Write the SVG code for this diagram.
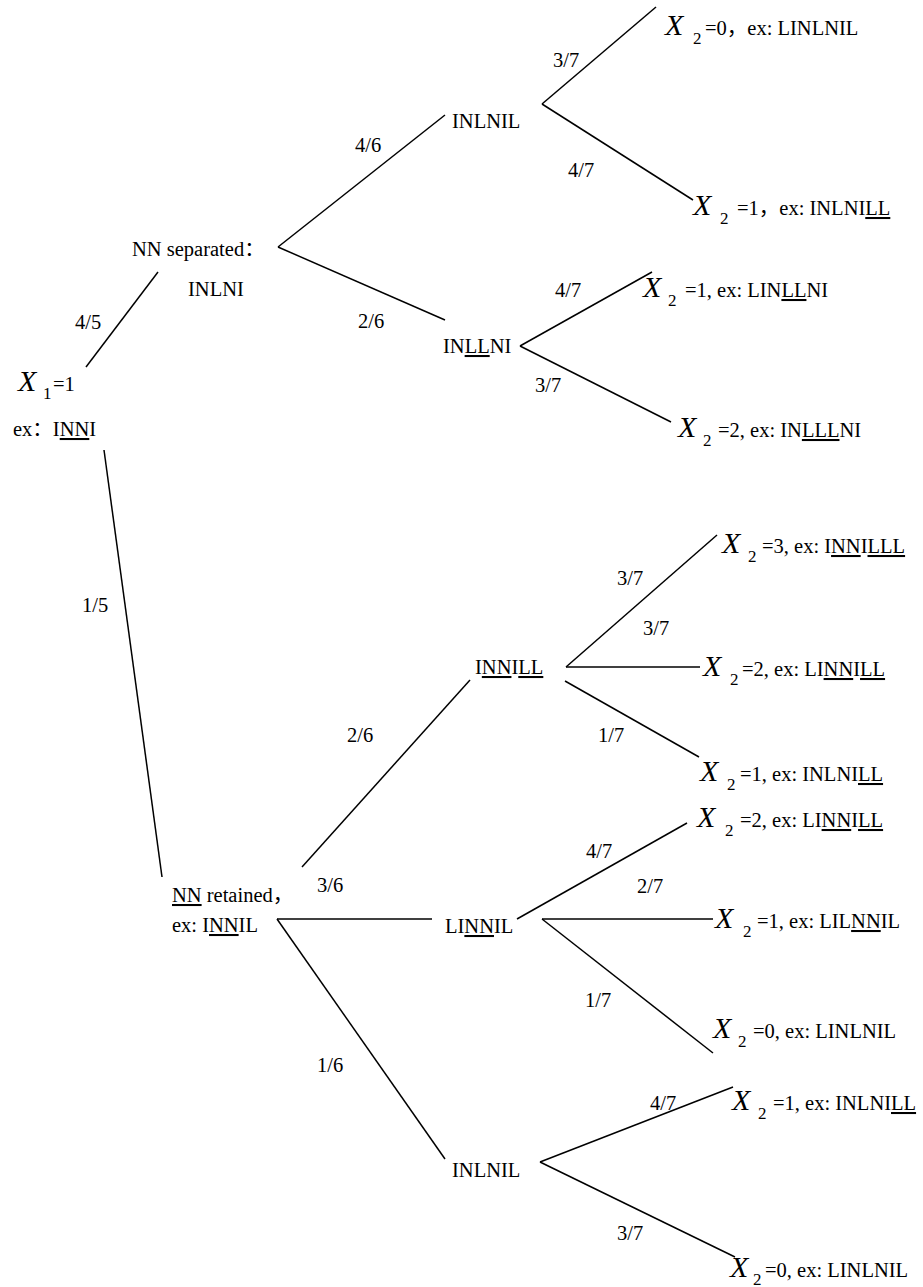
<svg xmlns="http://www.w3.org/2000/svg" width="923" height="1287" viewBox="0 0 923 1287">
<style>
text{font-family:"Liberation Serif","Noto Sans CJK SC",serif;fill:#000}
.t{font-size:20.5px}
.X{font-size:30px;font-style:italic}
.s{font-size:17px}
.u{text-decoration:underline}
#connectors line{stroke:#000;stroke-width:1.5;fill:none}
</style>
<rect width="923" height="1287" fill="#fff"/>
<g id="connectors">
<line x1="86" y1="367" x2="158" y2="272"/>
<line x1="104" y1="450" x2="162" y2="877"/>
<line x1="278" y1="247" x2="445" y2="115"/>
<line x1="278" y1="247" x2="445" y2="320"/>
<line x1="542" y1="104" x2="656" y2="7"/>
<line x1="542" y1="104" x2="693" y2="200"/>
<line x1="520" y1="346" x2="652" y2="272"/>
<line x1="520" y1="346" x2="671" y2="422"/>
<line x1="302" y1="867" x2="470" y2="680"/>
<line x1="277" y1="919" x2="432" y2="919"/>
<line x1="277" y1="919" x2="445" y2="1159"/>
<line x1="566" y1="667" x2="717" y2="535"/>
<line x1="566" y1="667" x2="700" y2="667"/>
<line x1="565" y1="681" x2="699" y2="757"/>
<line x1="517" y1="919" x2="687" y2="823"/>
<line x1="542" y1="919" x2="713" y2="919"/>
<line x1="542" y1="919" x2="713" y2="1053"/>
<line x1="540" y1="1162" x2="733" y2="1087"/>
<line x1="540" y1="1162" x2="735" y2="1257"/>
</g>
<g id="edge-labels" class="t">
<text class="t" x="75" y="329">4/5</text>
<text class="t" x="82" y="612">1/5</text>
<text class="t" x="355" y="152">4/6</text>
<text class="t" x="358" y="328">2/6</text>
<text class="t" x="553" y="67">3/7</text>
<text class="t" x="568" y="177">4/7</text>
<text class="t" x="555" y="297">4/7</text>
<text class="t" x="535" y="392">3/7</text>
<text class="t" x="347" y="742">2/6</text>
<text class="t" x="317" y="892">3/6</text>
<text class="t" x="317" y="1072">1/6</text>
<text class="t" x="617" y="585">3/7</text>
<text class="t" x="643" y="635">3/7</text>
<text class="t" x="598" y="742">1/7</text>
<text class="t" x="586" y="858">4/7</text>
<text class="t" x="637" y="893">2/7</text>
<text class="t" x="585" y="1007">1/7</text>
<text class="t" x="650" y="1110">4/7</text>
<text class="t" x="617" y="1240">3/7</text>
</g>
<g id="root">
<text class="X" x="18" y="391">X</text><text class="s" x="43" y="399">1</text><text class="t" x="53" y="391">=1</text>
<text class="t" x="13" y="436">ex：I<tspan class="u">NN</tspan>I</text>
</g>
<g id="nn-separated">
<text class="t" x="132" y="256">NN separated：</text>
<text class="t" x="188" y="296">INLNI</text>
</g>
<g id="inlnil-top"><text class="t" x="452" y="128">INLNIL</text></g>
<g id="inllni"><text class="t" x="443" y="353">IN<tspan class="u">LL</tspan>NI</text></g>
<g id="leaf-1">
<text class="X" x="665" y="35">X</text><text class="s" x="693" y="44">2</text><text class="t" x="705" y="35">=0，ex: LINLNIL</text>
</g>
<g id="leaf-2">
<text class="X" x="693" y="215">X</text><text class="s" x="720" y="224">2</text><text class="t" x="737" y="215">=1，ex: INLNI<tspan class="u">LL</tspan></text>
</g>
<g id="leaf-3">
<text class="X" x="643" y="297">X</text><text class="s" x="668" y="306">2</text><text class="t" x="685" y="297">=1, ex: LIN<tspan class="u">LL</tspan>NI</text>
</g>
<g id="leaf-4">
<text class="X" x="678" y="437">X</text><text class="s" x="703" y="446">2</text><text class="t" x="718" y="437">=2, ex: IN<tspan class="u">LLL</tspan>NI</text>
</g>
<g id="nn-retained">
<text class="t" x="172" y="902"><tspan class="u">NN</tspan> retained，</text>
<text class="t" x="172" y="932">ex: I<tspan class="u">NN</tspan>IL</text>
</g>
<g id="innill"><text class="t" x="475" y="674">I<tspan class="u">NN</tspan>I<tspan class="u">LL</tspan></text></g>
<g id="linnil"><text class="t" x="445" y="933">LI<tspan class="u">NN</tspan>IL</text></g>
<g id="inlnil-bottom"><text class="t" x="452" y="1177">INLNIL</text></g>
<g id="leaf-5">
<text class="X" x="722" y="553">X</text><text class="s" x="748" y="562">2</text><text class="t" x="762" y="553">=3, ex: I<tspan class="u">NN</tspan>I<tspan class="u">LLL</tspan></text>
</g>
<g id="leaf-6">
<text class="X" x="703" y="676">X</text><text class="s" x="730" y="685">2</text><text class="t" x="742" y="676">=2, ex: LI<tspan class="u">NN</tspan>I<tspan class="u">LL</tspan></text>
</g>
<g id="leaf-7">
<text class="X" x="700" y="781">X</text><text class="s" x="727" y="790">2</text><text class="t" x="740" y="781">=1, ex: INLNI<tspan class="u">LL</tspan></text>
</g>
<g id="leaf-8">
<text class="X" x="697" y="827">X</text><text class="s" x="725" y="836">2</text><text class="t" x="740" y="827">=2, ex: LI<tspan class="u">NN</tspan>I<tspan class="u">LL</tspan></text>
</g>
<g id="leaf-9">
<text class="X" x="715" y="928">X</text><text class="s" x="743" y="937">2</text><text class="t" x="757" y="928">=1, ex: LIL<tspan class="u">NN</tspan>IL</text>
</g>
<g id="leaf-10">
<text class="X" x="713" y="1038">X</text><text class="s" x="738" y="1047">2</text><text class="t" x="753" y="1038">=0, ex: LINLNIL</text>
</g>
<g id="leaf-11">
<text class="X" x="732" y="1110">X</text><text class="s" x="758" y="1119">2</text><text class="t" x="773" y="1110">=1, ex: INLNI<tspan class="u">LL</tspan></text>
</g>
<g id="leaf-12">
<text class="X" x="730" y="1277">X</text><text class="s" x="753" y="1285">2</text><text class="t" x="765" y="1277">=0, ex: LINLNIL</text>
</g>
</svg>
